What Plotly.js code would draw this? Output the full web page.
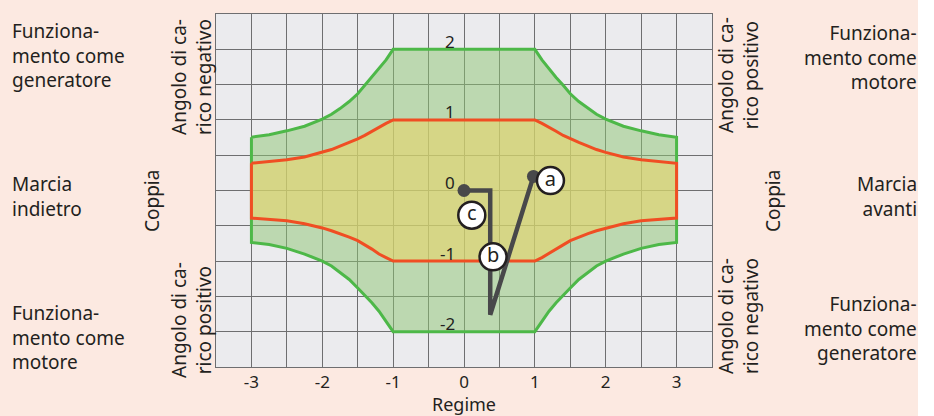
<!DOCTYPE html>
<html>
<head>
<meta charset="utf-8">
<script src="https://cdn.plot.ly/plotly-3.0.1.min.js"></script>
<style>html,body{margin:0;padding:0;background:#fff;} #chart{width:934px;height:416px;}</style>
</head>
<body>
<div id="chart"></div>
<script>
// ---- data ----
const curveX      = [1, 1.1, 1.2, 1.3, 1.4, 1.5, 1.62, 1.75, 1.87, 2.0, 2.25, 2.5, 2.75, 3.0];
const greenUpper  = [2.0, 1.85, 1.72, 1.60, 1.49, 1.37, 1.26, 1.16, 1.08, 1.01, 0.91, 0.845, 0.79, 0.755];
const greenLower  = [-2.0, -1.85, -1.71, -1.59, -1.48, -1.38, -1.26, -1.16, -1.07, -1.0, -0.9, -0.82, -0.765, -0.735];
const redUpper    = [1.0, 0.95, 0.9, 0.84, 0.78, 0.73, 0.68, 0.63, 0.58, 0.54, 0.475, 0.435, 0.405, 0.385];
const redLower    = [-1.0, -0.95, -0.9, -0.83, -0.77, -0.71, -0.66, -0.61, -0.57, -0.53, -0.47, -0.43, -0.405, -0.39];

const pathX = [0, 0.37, 0.37, 0.98];
const pathY = [0, 0, -1.76, 0.2];
const dotX = [0, 0.98];
const dotY = [0, 0.2];
const labelX = [1.22, 0.41, 0.11];
const labelY = [0.14, -0.94, -0.35];
const labelText = ['a', 'b', 'c'];

const xTickVals = [-3, -2, -1, 0, 1, 2, 3];
const xTickText = ['-3', '-2', '-1', '0', '1', '2', '3'];
const yLabelVals = [2, 1, 0, -1, -2];
const yLabelText = ['2', '1', '0', '-1', '-2'];

const xTitle = 'Regime';
const sideTitle = 'Coppia';
const leftTexts = ['Funziona-<br>mento come<br>generatore', 'Marcia<br>indietro', 'Funziona-<br>mento come<br>motore'];
const rightTexts = ['Funziona-<br>mento come<br>motore', 'Marcia<br>avanti', 'Funziona-<br>mento come<br>generatore'];
const leftRot = ['Angolo di ca-<br>rico negativo', 'Angolo di ca-<br>rico positivo'];
const rightRot = ['Angolo di ca-<br>rico positivo', 'Angolo di ca-<br>rico negativo'];

// ---- build closed polygons (mirrored left/right) ----
function polygon(xs, up, lo) {
  const px = [], py = [];
  for (let i = xs.length - 1; i >= 0; i--) { px.push(-xs[i]); py.push(up[i]); }
  for (let i = 0; i < xs.length; i++) { px.push(xs[i]); py.push(up[i]); }
  for (let i = xs.length - 1; i >= 0; i--) { px.push(xs[i]); py.push(lo[i]); }
  for (let i = 0; i < xs.length; i++) { px.push(-xs[i]); py.push(lo[i]); }
  px.push(px[0]); py.push(py[0]);
  return [px, py];
}
const gPoly = polygon(curveX, greenUpper, greenLower);
const rPoly = polygon(curveX, redUpper, redLower);

const FONT = 'Noto Sans, Open Sans, sans-serif';
const TXT = '#231f20';

const traces = [
  {x: gPoly[0], y: gPoly[1], mode: 'lines', fill: 'toself',
   fillcolor: 'rgba(141,197,114,0.5)', line: {color: '#4db848', width: 3}, hoverinfo: 'skip'},
  {x: rPoly[0], y: rPoly[1], mode: 'lines', fill: 'toself',
   fillcolor: 'rgba(231,213,106,0.6)', line: {color: '#f04e23', width: 3}, hoverinfo: 'skip'},
  {x: pathX, y: pathY, mode: 'lines', line: {color: '#48484a', width: 4.5}, hoverinfo: 'skip'},
  {x: dotX, y: dotY, mode: 'markers', marker: {color: '#48484a', size: 13}, hoverinfo: 'skip'},
  {x: labelX, y: labelY, mode: 'markers+text', text: labelText, textposition: 'middle center',
   textfont: {family: FONT, size: 20, color: TXT},
   marker: {color: '#ffffff', size: 27, line: {color: '#231f20', width: 2.5}}, hoverinfo: 'skip'}
];

// pixel -> paper helpers (plot area: x 216..712, y 14..367)
const L = 216, T = 14, W = 496, H = 353;
const pxX = p => (p - L) / W;
const pxY = p => (T + H - p) / H;

const annotations = [];
yLabelVals.forEach((v, i) => annotations.push({
  x: -0.1, y: v, xref: 'x', yref: 'y', text: yLabelText[i], showarrow: false,
  xanchor: 'right', yanchor: 'middle', yshift: 8, font: {family: FONT, size: 17, color: TXT}
}));
const leftY = [55, 196, 337];
const rightY = [57, 196, 328];
leftTexts.forEach((t, i) => annotations.push({
  x: pxX(10), y: pxY(leftY[i]), xref: 'paper', yref: 'paper', text: t, showarrow: false,
  xanchor: 'left', yanchor: 'middle', align: 'left', font: {family: FONT, size: 19, color: TXT}
}));
rightTexts.forEach((t, i) => annotations.push({
  x: pxX(919), y: pxY(rightY[i]), xref: 'paper', yref: 'paper', text: t, showarrow: false,
  xanchor: 'right', yanchor: 'middle', align: 'right', font: {family: FONT, size: 19, color: TXT}
}));
const rotY = [77, 320];
const rotYR = [75, 316];
leftRot.forEach((t, i) => annotations.push({
  x: pxX(191), y: pxY(rotY[i]), xref: 'paper', yref: 'paper', text: t, showarrow: false,
  textangle: -90, xanchor: 'center', yanchor: 'middle', align: 'center', font: {family: FONT, size: 19, color: TXT}
}));
rightRot.forEach((t, i) => annotations.push({
  x: pxX(738), y: pxY(rotYR[i]), xref: 'paper', yref: 'paper', text: t, showarrow: false,
  textangle: -90, xanchor: 'center', yanchor: 'middle', align: 'center', font: {family: FONT, size: 19, color: TXT}
}));
annotations.push({x: pxX(152), y: pxY(201), xref: 'paper', yref: 'paper', text: sideTitle, showarrow: false,
  textangle: -90, xanchor: 'center', yanchor: 'middle', font: {family: FONT, size: 19, color: TXT}});
annotations.push({x: pxX(773), y: pxY(201), xref: 'paper', yref: 'paper', text: sideTitle, showarrow: false,
  textangle: -90, xanchor: 'center', yanchor: 'middle', font: {family: FONT, size: 19, color: TXT}});

const gridCol = '#6e6e70';
const layout = {
  width: 934, height: 416,
  margin: {l: L, r: 934 - L - W, t: T, b: 416 - T - H, pad: 0},
  paper_bgcolor: '#fce9e1', plot_bgcolor: '#ebebee',
  showlegend: false,
  font: {family: FONT, color: TXT},
  xaxis: {range: [-3.5, 3.5], tickmode: 'array', tickvals: xTickVals, ticktext: xTickText,
    showgrid: true, gridcolor: gridCol, gridwidth: 1, zeroline: false,
    minor: {dtick: 0.5, showgrid: true, gridcolor: gridCol, gridwidth: 1},
    showline: true, mirror: true, linecolor: gridCol, linewidth: 1,
    ticks: '', tickfont: {family: FONT, size: 17, color: TXT},
    title: {text: xTitle, font: {family: FONT, size: 18, color: TXT}, standoff: 4},
    fixedrange: true},
  yaxis: {range: [-2.5, 2.5], dtick: 0.5, showticklabels: false,
    showgrid: true, gridcolor: gridCol, gridwidth: 1, zeroline: false,
    showline: true, mirror: true, linecolor: gridCol, linewidth: 1, ticks: '', fixedrange: true},
  shapes: [{type: 'rect', xref: 'paper', yref: 'paper', x0: pxX(918), x1: pxX(940), y0: -0.5, y1: 1.5,
    fillcolor: '#ffffff', line: {width: 0}, layer: 'below'}],
  annotations: annotations
};

Plotly.newPlot('chart', traces, layout, {displayModeBar: false, staticPlot: true});
</script>
</body>
</html>
